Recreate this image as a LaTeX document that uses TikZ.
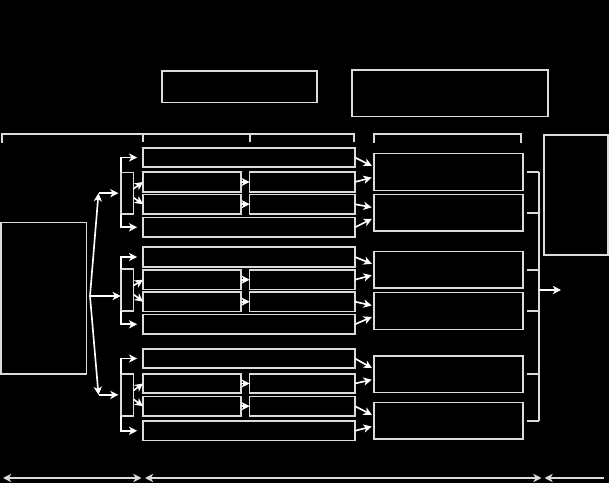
\documentclass[tikz,border=0pt]{standalone}
\usepackage{xcolor}
\usepackage{tikz}
\usetikzlibrary{arrows,arrows.meta,shapes,positioning,calc}
\definecolor{lgray}{gray}{0.86}

\begin{document}
\begin{tikzpicture}[x=0.03cm, y=-0.03cm, >={Stealth[length=7pt,width=7pt,inset=2pt]}, line width=1.4pt,
    box/.style n args={2}{draw=lgray, rectangle, inner sep=0pt, outer sep=0pt,
        minimum width=#1*0.3mm, minimum height=#2*0.3mm},
    wire/.style={draw=lgray},
    link/.style={->, draw=white}]
    \useasboundingbox (0,0) rectangle (609,483);
    \fill[black] (0,0) rectangle (609,483);

    % Header boxes
    \node[box={155}{31.5}] (capA) at (239.5,86.75) {};
    \node[box={196}{46.5}] (capB) at (450,93.25) {};

    % Source and sink
    \node[box={85.7}{151.3}] (src) at (43.8,298.3) {};
    \node[box={64}{119.7}] (sink) at (576,195.1) {};

    % Group 1
    \node[box={212}{19.5}] (w11) at (249,157.5) {};
    \node[box={98}{19.5}] (l12) at (192,182) {};
    \node[box={105.3}{19.5}] (r12) at (302.3,182) {};
    \node[box={98}{19.5}] (l13) at (192,204.2) {};
    \node[box={105.3}{19.5}] (r13) at (302.3,204.2) {};
    \node[box={212}{19.5}] (w14) at (249,227.3) {};
    \node[box={12.9}{41.7}] (sw1) at (127.2,193.2) {};
    \node[box={149}{36.7}] (out11) at (448.5,172) {};
    \node[box={149}{36.7}] (out12) at (448.5,212.8) {};

    % Group 2
    \node[box={212}{19.5}] (w21) at (249,257) {};
    \node[box={98}{19.5}] (l22) at (192,279.7) {};
    \node[box={105.3}{19.5}] (r22) at (302.3,279.7) {};
    \node[box={98}{19.5}] (l23) at (192,301.7) {};
    \node[box={105.3}{19.5}] (r23) at (302.3,301.7) {};
    \node[box={212}{19.5}] (w24) at (249,324.3) {};
    \node[box={12.9}{41.4}] (sw2) at (127.2,290) {};
    \node[box={149}{36.7}] (out21) at (448.5,269.7) {};
    \node[box={149}{36.7}] (out22) at (448.5,311) {};

    % Group 3
    \node[box={212}{19.5}] (w31) at (249,358.5) {};
    \node[box={98}{19.5}] (l32) at (192,383.5) {};
    \node[box={105.3}{19.5}] (r32) at (302.3,383.5) {};
    \node[box={98}{19.5}] (l33) at (192,406.2) {};
    \node[box={105.3}{19.5}] (r33) at (302.3,406.2) {};
    \node[box={212}{19.5}] (w34) at (249,430.8) {};
    \node[box={12.9}{42.3}] (sw3) at (127.2,394.9) {};
    \node[box={149}{36.7}] (out31) at (448.5,374.2) {};
    \node[box={149}{36.7}] (out32) at (448.5,420.9) {};

    % Fan out of the source
    \coordinate (fan) at (90,296);
    \coordinate (up) at (98.5,193.2);
    \coordinate (down) at (98.5,394.9);
    \draw[link] (fan) -- (up);
    \draw[link, shorten >=2pt] (up) -- (sw1.west);
    \draw[link] (fan) -- (fan -| sw2.west);
    \draw[link] (fan) -- (down);
    \draw[link, shorten >=2pt] (down) -- (sw3.west);

    % Group 1 connections
    \draw[link, shorten >=5pt] (sw1.north west) |- (w11);
    \draw[link, shorten >=5pt] (sw1.south west) |- (w14);
    \draw[link] ($(sw1.east)+(0,-4.5)$) -- (l12.west);
    \draw[link] ($(sw1.east)+(0,4.5)$) -- (l13.west);
    \draw[link] (l12) -- (r12);
    \draw[link] (l13) -- (r13);
    \draw[link, shorten >=2pt] (w11.east) -- ($(out11.west)+(0,-5)$);
    \draw[link, shorten >=2pt] (r12.east) -- ($(out11.west)+(0,5)$);
    \draw[link, shorten >=2pt] (r13.east) -- ($(out12.west)+(0,-5)$);
    \draw[link, shorten >=2pt] (w14.east) -- ($(out12.west)+(0,5)$);

    % Group 2 connections
    \draw[link, shorten >=5pt] (sw2.north west) |- (w21);
    \draw[link, shorten >=5pt] (sw2.south west) |- (w24);
    \draw[link] ($(sw2.east)+(0,-4.5)$) -- (l22.west);
    \draw[link] ($(sw2.east)+(0,4.5)$) -- (l23.west);
    \draw[link] (l22) -- (r22);
    \draw[link] (l23) -- (r23);
    \draw[link, shorten >=2pt] (w21.east) -- ($(out21.west)+(0,-5)$);
    \draw[link, shorten >=2pt] (r22.east) -- ($(out21.west)+(0,5)$);
    \draw[link, shorten >=2pt] (r23.east) -- ($(out22.west)+(0,-5)$);
    \draw[link, shorten >=2pt] (w24.east) -- ($(out22.west)+(0,5)$);

    % Group 3 connections
    \draw[link, shorten >=5pt] (sw3.north west) |- (w31);
    \draw[link, shorten >=5pt] (sw3.south west) |- (w34);
    \draw[link] ($(sw3.east)+(0,-4.5)$) -- (l32.west);
    \draw[link] ($(sw3.east)+(0,4.5)$) -- (l33.west);
    \draw[link] (l32) -- (r32);
    \draw[link] (l33) -- (r33);
    \draw[link, shorten >=2pt] (w31.east) -- ($(out31.west)+(0,-5)$);
    \draw[link, shorten >=2pt] (r32.east) -- ($(out31.west)+(0,5)$);
    \draw[link, shorten >=2pt] (r33.east) -- ($(out32.west)+(0,-5)$);
    \draw[link, shorten >=2pt] (w34.east) -- ($(out32.west)+(0,5)$);

    % Collector
    \coordinate (bus) at (539,290);
    \coordinate (exit) at (561,290);
    \draw[wire] ($(out11.east)+(4,0)$) -- (out11.east -| bus);
    \draw[wire] ($(out12.east)+(4,0)$) -- (out12.east -| bus);
    \draw[wire] ($(out21.east)+(4,0)$) -- (out21.east -| bus);
    \draw[wire] ($(out22.east)+(4,0)$) -- (out22.east -| bus);
    \draw[wire] ($(out31.east)+(4,0)$) -- (out31.east -| bus);
    \draw[wire] ($(out32.east)+(4,0)$) -- (out32.east -| bus);
    \draw[wire] (out11.east -| bus) -- (out32.east -| bus);
    \draw[link] (bus) -- (exit);

    % Brackets on top
    \draw[wire] (2,143) -- (2,134) -- (354,134) -- (354,142);
    \draw[wire] (143,134) -- (143,142);
    \draw[wire] (250,134) -- (250,142);
    \draw[wire] (374,143) -- (374,134) -- (521,134) -- (521,143);

    % Spans at the bottom
    \draw[lgray, <->] (3,478) -- (141.5,478);
    \draw[lgray, <->] (145,478) -- (541.5,478);
    \draw[lgray, <-] (544.5,478) -- (604,478);

\end{tikzpicture}
\end{document}
